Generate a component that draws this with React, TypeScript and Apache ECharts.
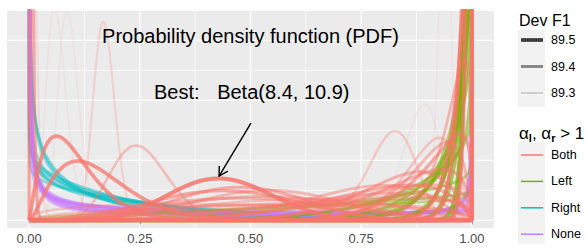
import React, { useEffect, useRef } from "react";
import * as echarts from "echarts";

// ---- axis ticks / grid breaks ----
const xTicks = [0, 0.25, 0.5, 0.75, 1];
const xMinor = [0.125, 0.375, 0.625, 0.875];
const yMajor = [0, 5, 10, 15];
const yMinor = [2.5, 7.5, 12.5];

// ---- legends ----
const devF1Breaks = [89.5, 89.4, 89.3];
const groupNames = ["Both", "Left", "Right", "None"];
const groupColors = ["#F8766D", "#7CAE00", "#00BFC4", "#C77CFF"];

// ---- Beta(shape1, shape2) curves, with their Dev F1 ----
const bothA = [2.15, 2.6, 41, 11.5, 7.2, 14, 1.3, 1.1, 51, 300, 41.5, 4.5, 3.5, 5.5, 2.8, 3, 6, 1.6, 2, 1.4, 12, 8, 5, 4, 3, 6, 15, 25, 10, 7, 2.5, 20, 60, 35, 150];
const bothB = [18.5, 14, 200, 34, 103, 140, 150, 300, 7, 20, 9.5, 5.5, 3.2, 4.8, 3.0, 2.2, 6.5, 1.4, 1.5, 1.8, 1.3, 1.5, 1.4, 1.6, 1.35, 1.8, 1.8, 1.4, 2.2, 2.5, 1.25, 2.5, 1.2, 1.05, 1.05];
const bothF1 = [89.5, 89.5, 89.32, 89.38, 89.27, 89.26, 89.3, 89.45, 89.27, 89.25, 89.35, 89.45, 89.42, 89.4, 89.4, 89.38, 89.43, 89.38, 89.4, 89.36, 89.45, 89.42, 89.4, 89.4, 89.38, 89.44, 89.4, 89.4, 89.42, 89.4, 89.38, 89.36, 89.5, 89.48, 89.5];

const leftA = [25, 15, 10, 6, 3, 2, 40, 80, 18, 12, 30, 5, 1.5, 120, 45, 20, 8];
const leftB = [0.7, 0.8, 0.85, 0.9, 0.9, 0.95, 0.6, 0.7, 0.95, 0.7, 0.9, 0.75, 0.9, 0.9, 0.85, 0.6, 0.6];
const leftF1 = [89.45, 89.42, 89.42, 89.42, 89.4, 89.4, 89.45, 89.5, 89.42, 89.44, 89.42, 89.42, 89.38, 89.48, 89.45, 89.44, 89.42];

const rightA = [0.8, 0.75, 0.85, 0.9, 0.7, 0.65, 0.65, 0.6, 0.6, 0.9];
const rightB = [3.0, 2.6, 3.6, 4.2, 3.2, 2.4, 5, 4, 4.5, 3.0];
const rightF1 = [89.4, 89.38, 89.4, 89.42, 89.38, 89.36, 89.4, 89.38, 89.38, 89.38];

const noneA = [0.5, 0.4, 0.3, 0.25, 0.35, 0.45, 0.2, 0.6];
const noneB = [0.85, 0.7, 0.5, 0.45, 0.6, 0.9, 0.35, 0.9];
const noneF1 = [89.45, 89.42, 89.4, 89.45, 89.4, 89.43, 89.42, 89.4];

const bestA = 8.4;
const bestB = 10.9;
const bestF1 = 89.55;

const FONT = '"Liberation Sans", Arial, sans-serif';
const CAP = 40;

function lgamma(z: number): number {
  if (z < 0.5) return Math.log(Math.PI / Math.abs(Math.sin(Math.PI * z))) - lgamma(1 - z);
  z -= 1;
  const c = [0.99999999999980993, 676.5203681218851, -1259.1392167224028, 771.32342877765313,
    -176.61502916214059, 12.507343278686905, -0.13857109526572012, 9.9843695780195716e-6, 1.5056327351493116e-7];
  let x = c[0];
  for (let i = 1; i < 9; i++) x += c[i] / (z + i);
  const t = z + 7.5;
  return 0.5 * Math.log(2 * Math.PI) + (z + 0.5) * Math.log(t) - t + Math.log(x);
}

function betaPdf(x: number, a: number, b: number): number {
  if (x <= 0) return a < 1 ? CAP : a === 1 ? b : 0;
  if (x >= 1) return b < 1 ? CAP : b === 1 ? a : 0;
  const lb = lgamma(a) + lgamma(b) - lgamma(a + b);
  return Math.min(CAP, Math.exp((a - 1) * Math.log(x) + (b - 1) * Math.log(1 - x) - lb));
}

// evaluation grid (denser at the edges)
const edgeSteps = [1e-5, 1e-4, 3e-4, 6e-4];
const xs: number[] = [0, ...edgeSteps];
for (let i = 1; i < 1000; i++) xs.push(i / 1000);
for (let i = edgeSteps.length - 1; i >= 0; i--) xs.push(1 - edgeSteps[i]);
xs.push(1);

const alphaOf = (f: number) => Math.max(0.08, Math.min(0.85, 0.15 + (f - 89.3) * 3));
const widthOf = (f: number) => Math.max(1.2, 2 + (f - 89.3) * 8.5);

function makeSeries(a: number, b: number, f: number, color: string) {
  return {
    type: "line",
    data: xs.map((x) => [x, betaPdf(x, a, b)]),
    showSymbol: false,
    symbol: "none",
    silent: true,
    clip: true,
    z: 2,
    emphasis: { disabled: true },
    lineStyle: { color, width: widthOf(f), opacity: alphaOf(f), join: "round" },
  };
}

export default function App() {
  const ref = useRef<HTMLDivElement>(null);
  useEffect(() => {
    const chart = echarts.init(ref.current!, null, { renderer: "svg" });
    const series: any[] = [];
    const addGroup = (A: number[], B: number[], F: number[], color: string) => {
      for (let i = 0; i < A.length; i++) series.push(makeSeries(A[i], B[i], F[i], color));
    };
    addGroup(rightA, rightB, rightF1, groupColors[2]);
    addGroup(noneA, noneB, noneF1, groupColors[3]);
    addGroup(leftA, leftB, leftF1, groupColors[1]);
    addGroup(bothA, bothB, bothF1, groupColors[0]);
    series.push(makeSeries(bestA, bestB, bestF1, groupColors[0]));

    const yMin = -0.63;
    const yMax = 17.45;
    chart.setOption({
      animation: false,
      backgroundColor: "#ffffff",
      grid: { left: 7, right: 93, top: 11, bottom: 21, containLabel: false, outerBoundsMode: "none" },
      xAxis: {
        type: "value",
        min: -0.05,
        max: 1.05,
        axisLine: { show: false },
        splitLine: { show: false },
        axisTick: { show: true, customValues: xTicks, length: 4, lineStyle: { color: "#333333", width: 1 } },
        axisLabel: {
          customValues: xTicks,
          formatter: (v: number) => v.toFixed(2),
          color: "#4D4D4D",
          fontSize: 13,
          fontFamily: FONT,
          margin: 4,
        },
      },
      yAxis: {
        type: "value", min: yMin, max: yMax,
        splitLine: { show: false }, axisLine: { show: false }, axisTick: { show: false }, axisLabel: { show: false },
      },
      series,
    });

    const px = (x: number, y: number) => chart.convertToPixel({ gridIndex: 0 }, [x, y]) as number[];
    const [pl, pt] = px(-0.05, yMax);
    const [pr, pb] = px(1.05, yMin);
    const g: any[] = [];
    g.push({ type: "rect", z: 0, shape: { x: pl, y: pt, width: pr - pl, height: pb - pt }, style: { fill: "#EBEBEB" }, silent: true });
    const vline = (v: number, w: number) => {
      const x = px(v, 0)[0];
      g.push({ type: "line", z: 1, silent: true, shape: { x1: x, y1: pt, x2: x, y2: pb }, style: { stroke: "#ffffff", lineWidth: w } });
    };
    const hline = (v: number, w: number) => {
      const y = px(0, v)[1];
      g.push({ type: "line", z: 1, silent: true, shape: { x1: pl, y1: y, x2: pr, y2: y }, style: { stroke: "#ffffff", lineWidth: w } });
    };
    xMinor.forEach((v) => vline(v, 0.7));
    yMinor.forEach((v) => hline(v, 0.7));
    xTicks.forEach((v) => vline(v, 1.3));
    yMajor.forEach((v) => hline(v, 1.3));

    // annotations
    const tp = px(0.5, 15.34);
    g.push({ type: "text", z: 10, silent: true, style: { text: "Probability density function (PDF)", x: tp[0], y: tp[1], textAlign: "center", textVerticalAlign: "middle", fill: "#000", font: `20px ${FONT}` } });
    const bp = px(0.282, 10.67);
    g.push({ type: "text", z: 10, silent: true, style: { text: "Best:", x: bp[0], y: bp[1], textAlign: "left", textVerticalAlign: "middle", fill: "#000", font: `20px ${FONT}` } });
    const bp2 = px(0.4247, 10.67);
    g.push({ type: "text", z: 10, silent: true, style: { text: `Beta(${bestA}, ${bestB})`, x: bp2[0], y: bp2[1], textAlign: "left", textVerticalAlign: "middle", fill: "#000", font: `20px ${FONT}` } });
    const a0 = px(0.501, 8.1);
    const a1 = px(0.429, 3.7);
    g.push({ type: "line", z: 10, silent: true, shape: { x1: a0[0], y1: a0[1], x2: a1[0], y2: a1[1] }, style: { stroke: "#000", lineWidth: 1.4 } });
    {
      const ang = Math.atan2(a0[1] - a1[1], a0[0] - a1[0]);
      const L = 10, spread = Math.PI / 6;
      const p1 = [a1[0] + L * Math.cos(ang + spread), a1[1] + L * Math.sin(ang + spread)];
      const p2 = [a1[0] + L * Math.cos(ang - spread), a1[1] + L * Math.sin(ang - spread)];
      g.push({ type: "polyline", z: 10, silent: true, shape: { points: [p1, a1, p2] }, style: { stroke: "#000", lineWidth: 1.4, fill: null } });
    }

    // legend 1: Dev F1
    g.push({ type: "text", z: 10, silent: true, style: { text: "Dev F1", x: 519, y: 20, textAlign: "left", textVerticalAlign: "middle", fill: "#000", font: `16px ${FONT}` } });
    g.push({ type: "rect", z: 10, silent: true, shape: { x: 518, y: 30, width: 27, height: 77 }, style: { fill: "#F2F2F2" } });
    devF1Breaks.forEach((f, i) => {
      const y = 40 + i * 26.5;
      g.push({ type: "line", z: 11, silent: true, shape: { x1: 521, y1: y, x2: 543, y2: y }, style: { stroke: "#000", opacity: alphaOf(f), lineWidth: widthOf(f) } });
      g.push({ type: "text", z: 11, silent: true, style: { text: f.toFixed(1), x: 551, y, textAlign: "left", textVerticalAlign: "middle", fill: "#000", font: `12.5px ${FONT}` } });
    });

    // legend 2: groups
    g.push({
      type: "text", z: 10, silent: true,
      style: {
        text: "{a|α}{s|l}{a|, α}{s|r}{a| > 1}",
        x: 519, y: 133, textAlign: "left", textVerticalAlign: "middle",
        fill: "#000", font: `16px ${FONT}`,
        rich: {
          a: { fontSize: 17, fontFamily: FONT, lineHeight: 20, fill: "#000" },
          s: { fontSize: 11, fontFamily: FONT, fontWeight: "bold", lineHeight: 20, verticalAlign: "bottom", padding: [7, 0, 0, 0], fill: "#000" },
        },
      },
    });
    g.push({ type: "rect", z: 10, silent: true, shape: { x: 518, y: 142, width: 27, height: 102 }, style: { fill: "#F2F2F2" } });
    groupNames.forEach((name, i) => {
      const y = 155 + i * 26.4;
      g.push({ type: "line", z: 11, silent: true, shape: { x1: 521, y1: y, x2: 543, y2: y }, style: { stroke: groupColors[i], lineWidth: 1.5 } });
      g.push({ type: "text", z: 11, silent: true, style: { text: name, x: 551, y, textAlign: "left", textVerticalAlign: "middle", fill: "#000", font: `12.5px ${FONT}` } });
    });

    chart.setOption({ graphic: g });
    return () => chart.dispose();
  }, []);
  return <div ref={ref} style={{ position: "absolute", left: 0, top: 0, width: 587, height: 249 }} />;
}
